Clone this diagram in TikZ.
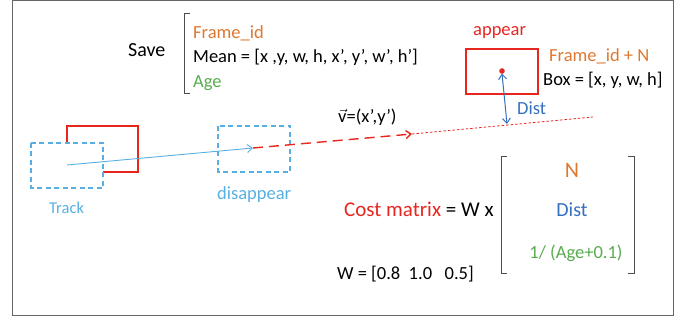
\documentclass[tikz,border=0pt]{standalone}
\usepackage{fontspec}
\setmainfont{Carlito}
\usetikzlibrary{arrows.meta}
\definecolor{boxred}{RGB}{232,38,32}
\definecolor{idorange}{RGB}{222,120,48}
\definecolor{agegreen}{RGB}{88,172,78}
\definecolor{distblue}{RGB}{52,112,190}
\definecolor{tracklblue}{RGB}{88,176,226}
\begin{document}
\begin{tikzpicture}[x=1pt, y=-1pt, >={Straight Barb[length=5pt,width=8pt]},
	txt/.style={anchor=base west, inner sep=0pt, font=\fontsize{18.5}{22}\selectfont},
	mid/.style={txt, anchor=base},
	dbox/.style={draw=tracklblue, line width=1.4pt, dash pattern=on 5pt off 3.5pt, fill=white},
	brk/.style={draw=black!70, line width=0.9pt}]
		\useasboundingbox (0,0) rectangle (687,320);
		% Frame
		\draw[black!60, line width=1pt] (12,1) rectangle (673,315);
		
		% Saved state
		\node[txt, font=\fontsize{20}{24}\selectfont] (save) at (128,57) {Save};
		\draw[brk] (190,13) -- (184,13) -- (184,93) -- (190,93);
		\node[txt, idorange] (fid) at (193,39) {Frame\_id};
		\node[txt] (mean) at (193,63) {Mean = [x ,y, w, h, x’, y’, w’, h’]};
		\node[txt, agegreen] (age) at (193,88) {Age};
		
		% Old track and lost box
		\draw[boxred, line width=1.4pt] (67,126) rectangle (138,172);
		\draw[dbox] (31,143) rectangle (103,188);
		\node[txt, tracklblue, font=\fontsize{16.5}{20}\selectfont] (track) at (49,214) {Track};
		\draw[dbox, fill=none] (218,126) rectangle (290,172);
		\node[txt, tracklblue] (disap) at (217,200) {disappear};
		
		% Velocity
		\coordinate (c0) at (67,165);
		\coordinate (c1) at (253,148);
		\coordinate (c2) at (412,134);
		\coordinate (c3) at (593,117);
		\coordinate (c4) at (507,124);
		\draw[->, tracklblue, line width=0.9pt] (c0) -- (c1);
		\draw[->, boxred, line width=1.4pt, dash pattern=on 10pt off 6pt] (c1) -- (c2);
		\draw[boxred, line width=0.8pt, dash pattern=on 2.5pt off 2pt] (c2) -- (c3);
		\node[txt] (vel) at (338,123) {$\vec{\mbox{v}}$=(x’,y’)};
		
		% New detection
		\node[txt, boxred] (app) at (473,36) {appear};
		\draw[boxred, line width=1.4pt] (466,49) rectangle (538,94);
		\fill[boxred] (502,71) circle (2.8) coordinate (det);
		\node[txt, idorange] (fidn) at (549,62) {Frame\_id + N};
		\node[txt] (newbox) at (543,86) {Box = [x, y, w, h]};
		\draw[<->, distblue, line width=1pt] ([yshift=-2.5pt]det) -- (c4);
		\node[txt, distblue] (dist) at (517,115) {Dist};
		
		% Cost
		\node[txt, font=\fontsize{21}{25}\selectfont] (cost) at (344,217) {\textcolor{boxred}{Cost matrix} = W x};
		\draw[brk] (507,156) -- (501,156) -- (501,273) -- (507,273);
		\draw[brk] (628,156) -- (634,156) -- (634,273) -- (628,273);
		\node[mid, idorange, font=\fontsize{22}{26}\selectfont] (termn) at (572,178) {N};
		\node[mid, distblue, font=\fontsize{20}{24}\selectfont] (termd) at (572,216) {Dist};
		\node[mid, agegreen] (terma) at (576,258) {1/ (Age+0.1)};
		\node[txt] (wts) at (337,279) {W = [0.8~~1.0~~~0.5]};
	\end{tikzpicture}
\end{document}
